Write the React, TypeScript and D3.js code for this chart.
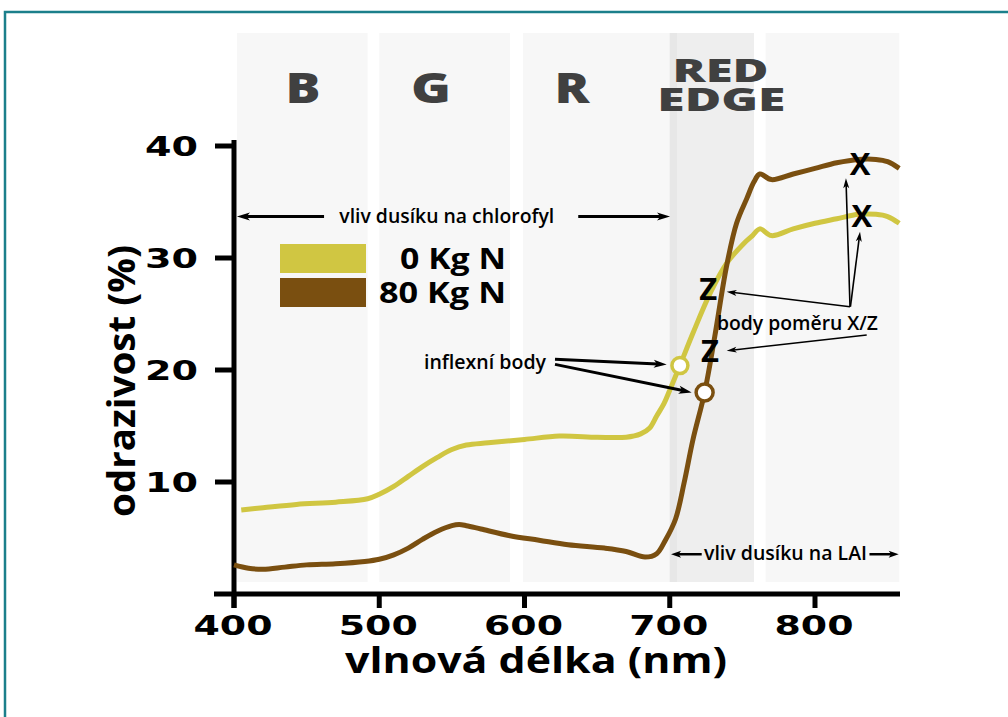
import React from 'react';
import * as d3 from 'd3';

// ---- data ----
const brownWl = [400,410,420,435,450,470,490,500,510,520,530,540,550,555,560,570,590,610,630,655,670,683,691,697,704,710,716,724,731,739,746,753,758,762,770,785,800,815,830,842,850,858];
const brownR = [2.6,2.3,2.2,2.4,2.6,2.7,2.9,3.1,3.5,4.1,4.9,5.6,6.1,6.2,6.1,5.8,5.2,4.8,4.4,4.1,3.8,3.3,3.6,4.8,6.7,10.0,13.8,18.0,23.0,29.2,33.1,35.3,36.8,37.5,37.0,37.5,38.0,38.5,38.8,38.8,38.6,38.0];
const yellowWl = [405,420,443,470,492,500,510,520,530,540,550,560,575,600,624,650,670,680,686,691,696,700,707,716,728,739,751,757,762,770,785,800,815,830,842,850,858];
const yellowR = [7.5,7.7,8.0,8.2,8.5,8.9,9.6,10.5,11.4,12.2,12.9,13.3,13.5,13.8,14.1,14.0,14.0,14.3,14.8,15.9,17.0,18.2,20.4,23.3,26.9,29.5,31.3,32.0,32.6,32.0,32.6,33.1,33.5,33.9,33.9,33.7,33.1];

const seriesNames = ['0 Kg N', '80 Kg N'];
const inflexWl = [707, 724];
const inflexR = [20.4, 18.0];

const bandStart = [402, 500, 599, 700, 766];
const bandEnd = [492, 590, 700, 758, 858];
const bandLabels = ['B', 'G', 'R'];
const bandLabelWl = [447.5, 535.6, 632.7];

const xTicks = [400, 500, 600, 700, 800];
const yTicks = [10, 20, 30, 40];

// ---- layout ----
const x = d3.scaleLinear().domain([400, 860]).range([234, 902.15]);
const y = d3.scaleLinear().domain([0, 40]).range([594, 146]);

const YELLOW = '#d0c642';
const BROWN = '#7a4f10';

type P = [number, number];

function Arrow({ from, to, sw, hl, hw }: { from: P; to: P; sw: number; hl: number; hw: number }) {
  const dx = to[0] - from[0], dy = to[1] - from[1];
  const len = Math.hypot(dx, dy);
  const ux = dx / len, uy = dy / len;
  const bx = to[0] - ux * hl, by = to[1] - uy * hl;
  const px = -uy, py = ux;
  const pts = [
    [to[0], to[1]],
    [bx + px * hw / 2, by + py * hw / 2],
    [bx + ux * hl * 0.25, by + uy * hl * 0.25],
    [bx - px * hw / 2, by - py * hw / 2],
  ].map(p => p.join(',')).join(' ');
  return (
    <g>
      <line x1={from[0]} y1={from[1]} x2={bx + ux * hl * 0.3} y2={by + uy * hl * 0.3} stroke="#000" strokeWidth={sw} />
      <polygon points={pts} fill="#000" />
    </g>
  );
}

const pt = (wl: number, r: number): P => [x(wl), y(r)];

export default function App() {
  const yellowPath = d3.line<number>().curve(d3.curveCatmullRom.alpha(0.5))
    .x((_, i) => x(yellowWl[i])).y((d) => y(d))(yellowR) || '';
  const brownPath = d3.line<number>().curve(d3.curveCatmullRom.alpha(0.5))
    .x((_, i) => x(brownWl[i])).y((d) => y(d))(brownR) || '';

  const tickFont = { fontFamily: '"DejaVu Sans", sans-serif', fontWeight: 700, fontSize: 27 } as const;
  const sans = '"Open Sans", "Noto Sans", sans-serif';

  return (
    <svg width={1008} height={717} style={{ position: 'absolute', left: 0, top: 0, display: 'block', background: '#fff' }}>
      <rect x={5} y={12} width={1010} height={720} fill="none" stroke="#1b7f8b" strokeWidth={2.5} />

      {/* spectral bands */}
      {bandStart.map((s, i) => (
        <rect key={i} x={x(s)} y={33} width={x(bandEnd[i]) - x(s)} height={549}
          fill={i === 3 ? '#eeeeee' : '#f7f7f7'} />
      ))}
      <rect x={x(bandStart[3])} y={33} width={x(705) - x(700)} height={549} fill="#e7e7e7" />

      {bandLabels.map((l, i) => (
        <text key={l} x={x(bandLabelWl[i])} y={103} textAnchor="middle" fill="#404040"
          style={{ fontFamily: sans, fontWeight: 800, fontSize: 42 }}
          textLength={i === 1 ? 40 : 35} lengthAdjust="spacingAndGlyphs">{l}</text>
      ))}
      <text x={x(735)} y={82} textAnchor="middle" fill="#404040" style={{ fontFamily: sans, fontWeight: 800, fontSize: 32 }}
        textLength={96} lengthAdjust="spacingAndGlyphs">RED</text>
      <text x={x(735.5)} y={111} textAnchor="middle" fill="#404040" style={{ fontFamily: sans, fontWeight: 800, fontSize: 32 }}
        textLength={128} lengthAdjust="spacingAndGlyphs">EDGE</text>

      {/* axes */}
      <line x1={214} y1={y(0)} x2={900} y2={y(0)} stroke="#000" strokeWidth={5} />
      <line x1={x(400)} y1={y(40) - 6} x2={x(400)} y2={608} stroke="#000" strokeWidth={5} />
      {yTicks.map(t => (
        <g key={t}>
          <line x1={215} x2={x(400)} y1={y(t)} y2={y(t)} stroke="#000" strokeWidth={5} />
          <text x={171.5} y={y(t) + 10} textAnchor="middle" style={tickFont} textLength={53} lengthAdjust="spacingAndGlyphs">{t}</text>
        </g>
      ))}
      {xTicks.map(t => (
        <g key={t}>
          <line x1={x(t)} x2={x(t)} y1={y(0)} y2={608} stroke="#000" strokeWidth={5} />
          <text x={x(t) - 1} y={635} textAnchor="middle" style={tickFont} textLength={79} lengthAdjust="spacingAndGlyphs">{t}</text>
        </g>
      ))}
      <text x={536} y={673} textAnchor="middle" style={{ fontFamily: sans, fontWeight: 700, fontSize: 36 }}
        textLength={382} lengthAdjust="spacingAndGlyphs">vlnová délka (nm)</text>
      <text transform={`translate(135,381) rotate(-90)`} textAnchor="middle" style={{ fontFamily: sans, fontWeight: 700, fontSize: 38 }}
        textLength={272} lengthAdjust="spacingAndGlyphs">odrazivost (%)</text>

      {/* curves */}
      <path d={yellowPath} fill="none" stroke={YELLOW} strokeWidth={5} strokeLinejoin="round" />
      <path d={brownPath} fill="none" stroke={BROWN} strokeWidth={5} strokeLinejoin="round" />

      {/* legend */}
      <rect x={280} y={244} width={86} height={29} fill={YELLOW} />
      <rect x={280} y={278} width={86} height={29} fill={BROWN} />
      <text x={506} y={269} textAnchor="end" style={{ fontFamily: sans, fontWeight: 700, fontSize: 29 }}
        textLength={106} lengthAdjust="spacingAndGlyphs">{seriesNames[0]}</text>
      <text x={506} y={303} textAnchor="end" style={{ fontFamily: sans, fontWeight: 700, fontSize: 29 }}
        textLength={127} lengthAdjust="spacingAndGlyphs">{seriesNames[1]}</text>

      {/* chlorophyll annotation */}
      <Arrow from={pt(462, 33.7)} to={pt(402, 33.7)} sw={3} hl={13} hw={8} />
      <Arrow from={pt(637, 33.7)} to={pt(700.2, 33.7)} sw={3} hl={13} hw={8} />
      <text x={x(546.5)} y={222.5} textAnchor="middle" style={{ fontFamily: sans, fontWeight: 600, fontSize: 19 }}
        textLength={215} lengthAdjust="spacingAndGlyphs">vliv dusíku na chlorofyl</text>

      {/* LAI annotation */}
      <Arrow from={pt(722, 3.55)} to={pt(700.9, 3.55)} sw={2.5} hl={10} hw={7} />
      <Arrow from={pt(837.5, 3.55)} to={pt(857.6, 3.55)} sw={2.5} hl={10} hw={7} />
      <text x={704} y={560} style={{ fontFamily: sans, fontWeight: 600, fontSize: 19 }}
        textLength={163} lengthAdjust="spacingAndGlyphs">vliv dusíku na LAI</text>

      {/* inflection annotation */}
      <text x={424} y={369} style={{ fontFamily: sans, fontWeight: 600, fontSize: 19 }}
        textLength={122} lengthAdjust="spacingAndGlyphs">inflexní body</text>
      <Arrow from={pt(621, 20.96)} to={pt(697.9, 20.5)} sw={3} hl={13} hw={8} />
      <Arrow from={pt(621, 20.5)} to={pt(715.1, 18.0)} sw={3} hl={13} hw={8} />
      {inflexWl.map((w, i) => (
        <circle key={w} cx={x(w)} cy={y(inflexR[i])} r={i === 0 ? 8 : 8.5} fill="#fff"
          stroke={i === 0 ? YELLOW : BROWN} strokeWidth={3.5} />
      ))}

      {/* X/Z annotation */}
      <text x={717} y={330} style={{ fontFamily: sans, fontWeight: 600, fontSize: 19 }}
        textLength={161} lengthAdjust="spacingAndGlyphs">body poměru X/Z</text>
      <Arrow from={pt(824.1, 25.65)} to={pt(739.2, 26.99)} sw={1.6} hl={10} hw={6} />
      <Arrow from={pt(835.6, 23.13)} to={pt(739.2, 21.72)} sw={1.6} hl={10} hw={6} />
      <Arrow from={pt(824.1, 25.65)} to={pt(821.3, 37.12)} sw={1.6} hl={10} hw={6} />
      <Arrow from={pt(824.4, 25.65)} to={pt(831, 32.35)} sw={1.6} hl={10} hw={6} />
      <text x={x(726.5)} y={300} textAnchor="middle" style={{ fontFamily: sans, fontWeight: 700, fontSize: 31 }}>Z</text>
      <text x={x(727.7)} y={362} textAnchor="middle" style={{ fontFamily: sans, fontWeight: 700, fontSize: 31 }}>Z</text>
      <text x={x(831)} y={175} textAnchor="middle" style={{ fontFamily: sans, fontWeight: 700, fontSize: 31 }}>X</text>
      <text x={x(832.2)} y={226.5} textAnchor="middle" style={{ fontFamily: sans, fontWeight: 700, fontSize: 31 }}>X</text>
    </svg>
  );
}
